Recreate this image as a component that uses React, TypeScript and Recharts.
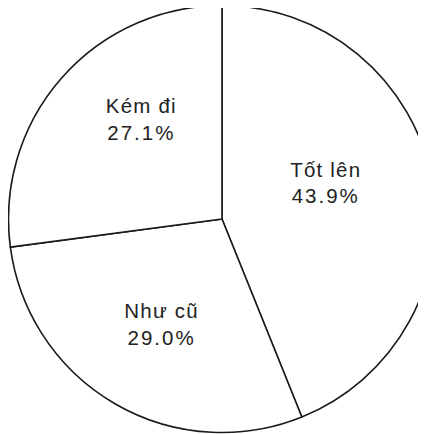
import React from "react";
import { PieChart, Pie, Cell } from "recharts";

const categories = ["Tốt lên", "Như cũ", "Kém đi"];
const shares = [43.9, 29.0, 27.1];

const data = categories.map((name, i) => ({ name, value: shares[i] }));

const RADIAN = Math.PI / 180;

// label nudges (styling only)
const labelNudge: Record<string, [number, number]> = {
  "Tốt lên": [-11.5, -6.5],
  "Kém đi": [7.7, -15],
  "Như cũ": [-1.3, 11],
};

const renderLabel = (props: any) => {
  const { cx, cy, midAngle, outerRadius, name, value } = props;
  const r = outerRadius * 0.55;
  const [nx, ny] = labelNudge[name] || [0, 0];
  const x = cx + r * Math.cos(-midAngle * RADIAN) + nx;
  const y = cy + r * Math.sin(-midAngle * RADIAN) + ny;
  return (
    <text
      x={x}
      y={y}
      textAnchor="middle"
      fill="#222"
      fontFamily="'Liberation Sans', Arial, sans-serif"
      fontSize={20.5}
    >
      <tspan x={x} y={y - 13.3} letterSpacing={1.2}>
        {name}
      </tspan>
      <tspan x={x} y={y + 13.3} letterSpacing={2}>
        {Number(value).toFixed(1) + "%"}
      </tspan>
    </text>
  );
};

export default function App() {
  return (
    <div style={{ margin: "-8px 0 0 -8px", width: 426, height: 434, background: "#fff" }}>
      <PieChart width={426} height={434} margin={{ top: 0, right: 0, bottom: 0, left: 0 }}>
        <Pie
          data={data}
          dataKey="value"
          nameKey="name"
          cx={222}
          cy={219}
          outerRadius={213.5}
          innerRadius={0}
          startAngle={90}
          endAngle={-270}
          stroke="#1a1a1a"
          strokeWidth={1.6}
          label={renderLabel}
          labelLine={false}
          isAnimationActive={false}
        >
          {data.map((d) => (
            <Cell key={d.name} fill="#ffffff" />
          ))}
        </Pie>
      </PieChart>
    </div>
  );
}
